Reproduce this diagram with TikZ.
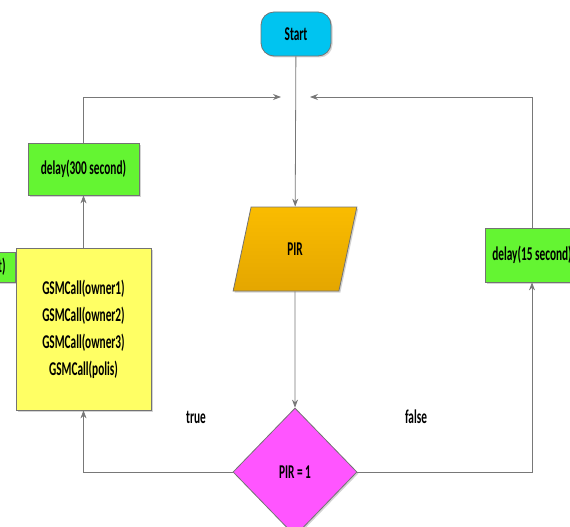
\documentclass[tikz,border=0pt]{standalone}
\usepackage{fontspec}
\newfontfamily\flowfont[FakeStretch=0.58]{Carlito}
\usetikzlibrary{shapes.geometric,arrows.meta,shadows}

\definecolor{startblue}{RGB}{0,196,240}
\definecolor{delaygreen}{RGB}{100,245,50}
\definecolor{callyellow}{RGB}{255,255,100}
\definecolor{pirorange}{RGB}{250,188,0}
\definecolor{pirdark}{RGB}{228,166,0}
\definecolor{testpink}{RGB}{255,85,255}
\definecolor{linegray}{RGB}{120,120,120}

\tikzset{
  block/.style={draw=black!55, line width=0.8pt, inner sep=2pt,
    font=\flowfont\bfseries\fontsize{19.5}{27}\selectfont,
    drop shadow={shadow xshift=1.5pt, shadow yshift=-1.5pt, opacity=0.35}},
  delaybox/.style={block, fill=delaygreen, minimum width=94, minimum height=54},
  flowline/.style={draw=linegray, line width=0.8pt},
  flowarrow/.style={flowline, -{Stealth[length=8pt,width=6pt]}},
  branch/.style={font=\flowfont\bfseries\fontsize{19.5}{22}\selectfont}
}

\begin{document}
\begin{tikzpicture}[x=1pt,y=-1pt]
\clip (0,0) rectangle (570,527);

% Define nodes
\node[block, fill=startblue, rounded corners=13pt,
      minimum width=70, minimum height=44]            (start) at (296,34) {Start};
\node[block, trapezium, trapezium left angle=76.6, trapezium right angle=103.4,
      trapezium stretches=true, minimum width=124, minimum height=84,
      top color=pirorange, bottom color=pirdark]      (pir) at (295,249) {PIR};
\node[block, diamond, fill=testpink, minimum width=124,
      minimum height=128]                             (test) at (295,472) {PIR = 1};
\node[delaybox, minimum width=111, minimum height=52] (wait300) at (83.5,169) {delay(300 second)};
\node[delaybox]                                       (wait15) at (532,255) {delay(15 second)};
\node[delaybox, minimum height=30, text width=74, align=right,
      inner xsep=3pt, anchor=east]                    (hidden) at (16,267) {t)};
\node[block, fill=callyellow, minimum width=135, minimum height=162,
      align=center]                                   (calls) at (83.5,329)
      {GSMCall(owner1)\\GSMCall(owner2)\\GSMCall(owner3)\\GSMCall(polis)};

\node[branch] (yes) at (196,417) {true};
\node[branch] (no)  at (416,417) {false};

\coordinate (inl) at (281,97);
\coordinate (inr) at (310,97);

% Connect the nodes
\draw[flowarrow] (start) -- (pir);
\draw[flowarrow] (pir) -- (test);
\draw[flowarrow] (test.west) -| (calls.south);
\draw[flowarrow] (test.east) -| (wait15.south);
\draw[flowarrow] (calls) -- (wait300);
\draw[flowarrow] (wait300.north) |- (inl);
\draw[flowarrow] (wait15.north) |- (inr);

\end{tikzpicture}
\end{document}
